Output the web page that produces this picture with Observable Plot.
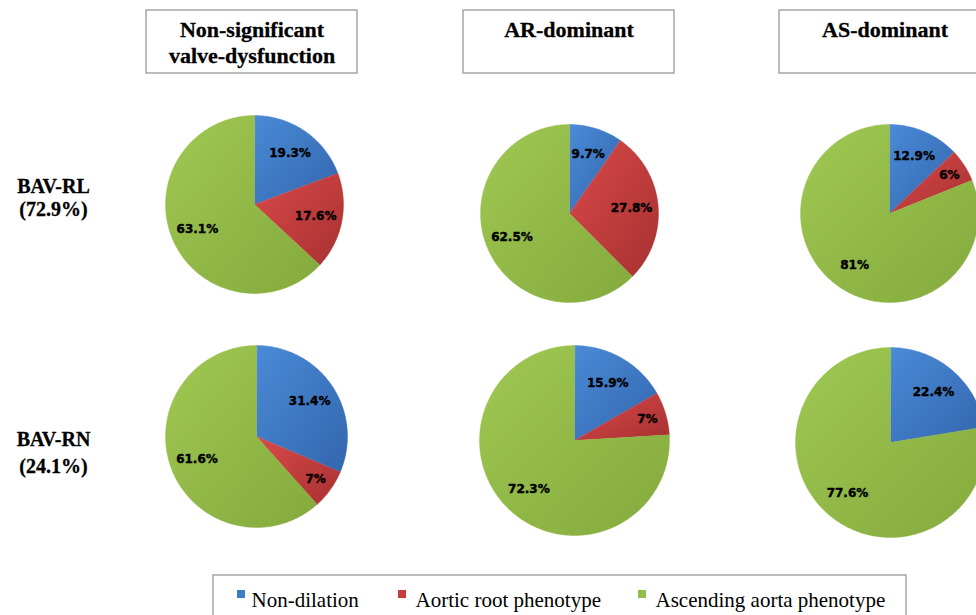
<!DOCTYPE html>
<html><head><meta charset="utf-8">
<script src="https://cdn.jsdelivr.net/npm/d3@7"></script>
<script src="https://cdn.jsdelivr.net/npm/@observablehq/plot@0.6"></script>
<style>body{margin:0;background:#fff;} #chart{width:976px;height:615px;overflow:hidden}</style>
</head><body><div id="chart"></div>
<script>
// ---------- data ----------
const columnHeaders = [["Non-significant", "valve-dysfunction"], ["AR-dominant"], ["AS-dominant"]];
const rowLabels = [["BAV-RL", "(72.9%)"], ["BAV-RN", "(24.1%)"]];
const phenotypes = ["Non-dilation", "Aortic root phenotype", "Ascending aorta phenotype"];
// pie order: BAV-RL × (Non-sig, AR, AS), then BAV-RN × (Non-sig, AR, AS)
const nonDilation    = [19.3,  9.7, 12.9, 31.4, 15.9, 22.4];
const aorticRoot     = [17.6, 27.8,  6,    7,    7,    0  ];
const ascendingAorta = [63.1, 62.5, 81,   61.6, 72.3, 77.6];

// ---------- layout ----------
const W = 976, H = 615;
const pieCx = [254, 569, 889, 256, 574, 890];
const pieCy = [204, 213, 213, 436, 440, 442];
const pieR  = [89, 89, 89, 91, 95, 95];
const fills = ["url(#gBlue)", "url(#gRed)", "url(#gGreen)"];
const flat = ["#3f7cc8", "#c93c3c", "#93bd48"];
const headerBoxX = [146, 463, 779], headerBoxW = 211, headerBoxY1 = 10, headerBoxY2 = 73;
const headerBaselines = [36, 62];
const rowLabelX = 53, rowBaselines = [[192, 215], [445, 472]];
const legendSqX = [237, 398, 638], legendTextX = [251, 415, 655], legendBaseline = 606;

// ---------- derived geometry ----------
const wedgePts = [];
const sliceLabels = [];
for (let p = 0; p < 6; p++) {
  const items = [nonDilation[p], aorticRoot[p], ascendingAorta[p]].map((v, k) => ({v, k}));
  const arcs = d3.pie().sort(null).value(d => d.v)(items);
  const cx = pieCx[p], cy = pieCy[p], r = pieR[p];
  arcs.forEach(a => {
    if (a.data.v <= 0) return;
    const id = p + "-" + a.data.k;
    const n = Math.max(2, Math.ceil((a.endAngle - a.startAngle) / (Math.PI / 180)));
    wedgePts.push({id, x: cx, y: cy, fill: fills[a.data.k]});
    for (let i = 0; i <= n; i++) {
      const t = a.startAngle + (a.endAngle - a.startAngle) * i / n;
      wedgePts.push({id, x: cx + r * Math.sin(t), y: cy - r * Math.cos(t), fill: fills[a.data.k]});
    }
    const mid = (a.startAngle + a.endAngle) / 2;
    const lr = r * (a.data.v < 8 ? 0.8 : 0.7);
    sliceLabels.push({x: cx + lr * Math.sin(mid), y: cy - lr * Math.cos(mid), text: a.data.v + "%"});
  });
}

const headerText = columnHeaders.flatMap((lines, c) => lines.map((t, j) => ({
  x: headerBoxX[c] + headerBoxW / 2, y: headerBaselines[j], text: t})));
const rowText = rowLabels.flatMap((lines, r) => lines.map((t, j) => ({
  x: rowLabelX, y: rowBaselines[r][j], text: t})));
const legendItems = phenotypes.map((t, i) => ({t, i}));

const serif = "'Liberation Serif', 'Times New Roman', serif";

const chart = Plot.plot({
  width: W, height: H, margin: 0,
  x: {type: "identity", axis: null},
  y: {type: "identity", axis: null},
  color: {type: "identity"},
  style: {background: "#fff"},
  marks: [
    Plot.line(wedgePts, {x: "x", y: "y", z: "id", fill: "fill", stroke: "fill", strokeWidth: 0.4, curve: "linear-closed"}),
    Plot.text(sliceLabels, {x: "x", y: "y", text: "text", fontFamily: "'DejaVu Sans', Verdana, sans-serif",
      fontWeight: "bold", fontSize: 12, fill: "#000", stroke: "#000", strokeWidth: 0.45}),
    Plot.rect(headerBoxX, {x1: d => d, x2: d => d + headerBoxW, y1: headerBoxY1, y2: headerBoxY2,
      fill: "none", stroke: "#a6a6a6", strokeWidth: 1.5}),
    Plot.text(headerText, {x: "x", y: "y", text: "text", lineAnchor: "bottom", fontFamily: serif,
      fontWeight: "bold", fontSize: 22, fill: "#000", stroke: "#000", strokeWidth: 0.3}),
    Plot.text(rowText, {x: "x", y: "y", text: "text", lineAnchor: "bottom", fontFamily: serif,
      fontWeight: "bold", fontSize: 20, fill: "#000", stroke: "#000", strokeWidth: 0.3}),
    Plot.rect([0], {x1: 213, x2: 906, y1: 575, y2: 650, fill: "none", stroke: "#a6a6a6", strokeWidth: 1.5}),
    Plot.rect(legendItems, {x1: d => legendSqX[d.i], x2: d => legendSqX[d.i] + 8, y1: 590, y2: 598,
      fill: d => flat[d.i]}),
    Plot.text(legendItems, {x: d => legendTextX[d.i], y: legendBaseline, text: "t", textAnchor: "start",
      lineAnchor: "bottom", fontFamily: serif, fontSize: 21, fill: "#000"})
  ]
});

const svg = d3.select(chart);
const defs = svg.insert("defs", ":first-child");
[["gBlue", "#4a8ad6", "#3366ad"], ["gRed", "#d84a4a", "#a83030"], ["gGreen", "#a0c853", "#83aa3c"]].forEach(([id, a, b]) => {
  const g = defs.append("linearGradient").attr("id", id).attr("x1", 0).attr("y1", 0).attr("x2", 1).attr("y2", 1);
  g.append("stop").attr("offset", "0%").attr("stop-color", a);
  g.append("stop").attr("offset", "100%").attr("stop-color", b);
});
document.getElementById("chart").appendChild(chart);
</script>
</body></html>
